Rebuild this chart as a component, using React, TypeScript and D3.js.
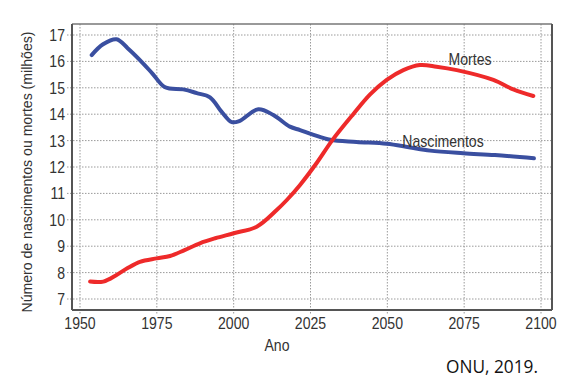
import React from "react";
import * as d3 from "d3";

const xTicks = [1950, 1975, 2000, 2025, 2050, 2075, 2100];
const yTicks = [7, 8, 9, 10, 11, 12, 13, 14, 15, 16, 17];

const birthYears = [1953.8, 1957.5, 1961.9, 1965.5, 1969.5, 1973.5, 1977.7, 1983.6, 1988, 1992.3, 1996.1, 1999.4, 2002, 2008, 2012.9, 2018.3, 2021.6, 2026, 2031.4, 2040, 2049.8, 2057, 2063.9, 2074.7, 2085, 2097.7];
const birthValues = [16.24, 16.65, 16.84, 16.5, 16.05, 15.55, 15.02, 14.94, 14.8, 14.64, 14.09, 13.7, 13.75, 14.19, 13.97, 13.53, 13.4, 13.22, 13.03, 12.95, 12.88, 12.75, 12.62, 12.52, 12.45, 12.33];

const deathYears = [1953.3, 1957.6, 1961.9, 1965.5, 1969.5, 1975, 1979.3, 1984, 1989, 1994, 2000, 2007.5, 2014, 2017.3, 2021.6, 2027, 2032, 2038.9, 2044.4, 2049.8, 2055.2, 2060.6, 2066, 2072.6, 2084.5, 2091, 2097.5];
const deathValues = [7.66, 7.66, 7.91, 8.17, 8.41, 8.54, 8.63, 8.85, 9.11, 9.3, 9.49, 9.74, 10.37, 10.75, 11.32, 12.15, 13.0, 14.0, 14.75, 15.3, 15.67, 15.86, 15.8, 15.67, 15.3, 14.94, 14.69];

const left = 72, right = 552, top = 24, bottom = 310;
const x = d3.scaleLinear().domain([1950, 2100]).range([80, 541]);
const y = d3.scaleLinear().domain([7, 17]).range([299, 35]);

const font = "'Liberation Sans', Arial, sans-serif";
const sx = 0.88;

export default function App() {
  const line = d3
    .line<[number, number]>()
    .x((d) => x(d[0]))
    .y((d) => y(d[1]))
    .curve(d3.curveCatmullRom.alpha(0.5));
  const births = birthYears.map((yr, i) => [yr, birthValues[i]] as [number, number]);
  const deaths = deathYears.map((yr, i) => [yr, deathValues[i]] as [number, number]);

  return (
    <svg width={580} height={383} style={{ position: "absolute", left: 0, top: 0, background: "#fff" }}>
      <rect x={0} y={0} width={580} height={383} fill="#fff" />
      {yTicks.map((t) => (
        <line key={"gy" + t} x1={left - 5} x2={right} y1={y(t)} y2={y(t)} stroke="#9a9a9a" strokeWidth={1} strokeDasharray="1.5,1.5" />
      ))}
      {xTicks.map((t) => (
        <line key={"gx" + t} x1={x(t)} x2={x(t)} y1={top} y2={bottom + 5} stroke="#9a9a9a" strokeWidth={1} strokeDasharray="1.5,1.5" />
      ))}
      <line x1={left} x2={right} y1={top} y2={top} stroke="#777" strokeWidth={1.5} />
      <line x1={right} x2={right} y1={top} y2={bottom} stroke="#555" strokeWidth={2} />
      <line x1={left} x2={left} y1={top} y2={bottom} stroke="#555" strokeWidth={2} />
      <line x1={left} x2={right} y1={bottom} y2={bottom} stroke="#555" strokeWidth={2} />

      <path d={line(births) || ""} fill="none" stroke="#3a4fa0" strokeWidth={4} strokeLinecap="round" />
      <path d={line(deaths) || ""} fill="none" stroke="#ee2a2a" strokeWidth={4} strokeLinecap="round" />

      {yTicks.map((t) => (
        <text key={"ly" + t} transform={`translate(65,${y(t) + 6}) scale(${sx},1)`} textAnchor="end" fontFamily={font} fontSize={16} fill="#333">
          {t}
        </text>
      ))}
      {xTicks.map((t) => (
        <text key={"lx" + t} transform={`translate(${x(t)},329) scale(${sx},1)`} textAnchor="middle" fontFamily={font} fontSize={16} fill="#333">
          {t}
        </text>
      ))}
      <text transform="translate(32,172) rotate(-90)" textAnchor="middle" fontFamily={font} fontSize={15} fill="#333" textLength={281} lengthAdjust="spacingAndGlyphs">
        Número de nascimentos ou mortes (milhões)
      </text>
      <text transform={`translate(277,351) scale(${sx},1)`} textAnchor="middle" fontFamily={font} fontSize={16} fill="#333">
        Ano
      </text>
      <text transform={`translate(470,65) scale(${sx},1)`} textAnchor="middle" fontFamily={font} fontSize={16} fill="#333">
        Mortes
      </text>
      <text transform={`translate(443,146.5) scale(${sx},1)`} textAnchor="middle" fontFamily={font} fontSize={16} fill="#333">
        Nascimentos
      </text>
      <text x={446} y={372.5} fontFamily="'Open Sans', 'Noto Sans', sans-serif" fontSize={18} fill="#111" textLength={92} lengthAdjust="spacingAndGlyphs">
        ONU, 2019.
      </text>
    </svg>
  );
}
